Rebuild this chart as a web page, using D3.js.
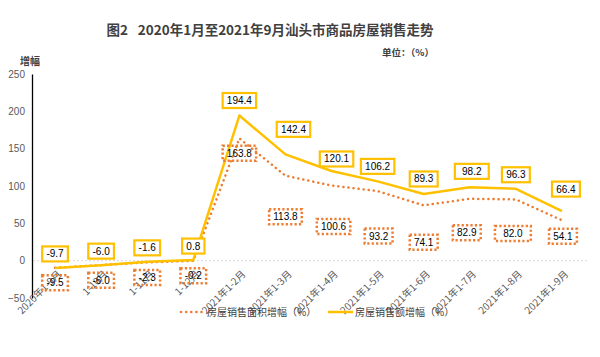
<!DOCTYPE html>
<html><head><meta charset="utf-8">
<script src="https://cdn.jsdelivr.net/npm/d3@7"></script>
<style>
body{margin:0;background:#fff;}
svg{display:block;}
</style></head>
<body>
<svg id="c" width="600" height="357"></svg>
<script>
const categories = ["2020年1-9月","1-10月","1-11月","1-12月","2021年1-2月","2021年1-3月","2021年1-4月","2021年1-5月","2021年1-6月","2021年1-7月","2021年1-8月","2021年1-9月"];
const areaGrowth = [-9.5,-6.0,-2.3,-0.2,163.8,113.8,100.6,93.2,74.1,82.9,82.0,54.1];
const salesGrowth = [-9.7,-6.0,-1.6,0.8,194.4,142.4,120.1,106.2,89.3,98.2,96.3,66.4];
const yTicks = [-50,0,50,100,150,200,250];
const seriesNames = ["房屋销售面积增幅（%）","房屋销售额增幅（%）"];

// layout of data labels (pixel offsets from the point, as placed in the reference)
const salesLabelDy = [-14,-14,-14,-14,-15,-25,-12,-15,-15,-16,-14,-22];
const salesLabelDx = [0,0,0,0,0,8,5,0,0,2,0,4];
const salesLabelPad = [0,0,0,0,0,0,0,0,0,6,0,0];
const areaLabelDy = [15,15,15,15,15,41,41,45,37,34,34,16];
const areaLabelDx = [0,0,0,0,0,0,2,1,0,-3,-3,1];
const areaLabelPad = [0,0,0,0,0,0,0,0,0,0,8,0];

const svg = d3.select("#c");
const cjk = "'Noto Sans CJK SC','Noto Sans',sans-serif";
const num = "'Liberation Sans',Arial,sans-serif";
const orange = "#ED7D31", gold = "#FFC000";

const x = d3.scaleBand().domain(categories).range([32,585]);
const y = d3.scaleLinear().domain([-50,250]).range([298,74]);
const cx = d => x(d) + x.bandwidth()/2;

// title
svg.append("text").attr("x",270).attr("y",35).attr("text-anchor","middle")
  .style("font-family",cjk).style("font-weight","bold").style("font-size","13.5px").attr("fill","#404040")
  .text("图2\u2002 2020年1月至2021年9月汕头市商品房屋销售走势");
svg.append("text").attr("x",382).attr("y",56)
  .style("font-family",cjk).style("font-weight","bold").style("font-size","9.5px").attr("fill","#404040")
  .text("单位：（%）");
svg.append("text").attr("x",20).attr("y",65)
  .style("font-family",cjk).style("font-weight","bold").style("font-size","10px").attr("fill","#404040")
  .text("增幅");

// y axis
const yAxis = d3.axisLeft(y).tickValues(yTicks).tickSize(0).tickPadding(7);
const ga = svg.append("g").attr("transform","translate(32,0)").call(yAxis);
ga.select(".domain").attr("stroke","#000").attr("stroke-width",1.3);
ga.selectAll("text").style("font-family",num).style("font-size","10px").attr("fill","#595959");

// zero line
svg.append("line").attr("x1",33).attr("x2",587).attr("y1",y(0)).attr("y2",y(0))
  .attr("stroke","#D9D9D9").attr("stroke-width",1).attr("stroke-dasharray","2,2");

// x labels
const xAxis = d3.axisBottom(x).tickSize(0).tickPadding(0);
const gx = svg.append("g").attr("transform",`translate(0,${y(0)})`).call(xAxis);
gx.select(".domain").remove();
gx.selectAll("text")
  .style("font-family",cjk).style("font-size","10px").attr("fill","#595959")
  .attr("text-anchor","end").attr("dy",null).attr("y",0)
  .attr("transform","translate(7,14) rotate(-45)");

// lines
const line = d3.line().x((d,i)=>cx(categories[i])).y(d=>y(d));
svg.append("path").datum(areaGrowth).attr("d",line).attr("fill","none")
  .attr("stroke",orange).attr("stroke-width",2.5).attr("stroke-dasharray","0.1,5").attr("stroke-linecap","round");
svg.append("path").datum(salesGrowth).attr("d",line).attr("fill","none")
  .attr("stroke",gold).attr("stroke-width",2.5).attr("stroke-linejoin","round");

// data labels
function labels(vals, dys, dxs, pads, color, dotted){
  vals.forEach((v,i)=>{
    const px = cx(categories[i]) + dxs[i], py = y(v) + dys[i];
    const g = svg.append("g");
    const t = g.append("text").attr("x",px).attr("y",py).attr("text-anchor","middle").attr("dy","0.35em")
      .style("font-family",num).style("font-size","10px").attr("fill","#000").text(v.toFixed(1));
    const bb = t.node().getBBox();
    const w = bb.width + 8 + pads[i], h = 15;
    const r = g.insert("rect","text").attr("x",px-w/2).attr("y",py-h/2).attr("width",w).attr("height",h)
      .attr("fill","#fff").attr("stroke",color).attr("stroke-width",dotted?2.5:2.2);
    if(dotted) r.attr("stroke-dasharray","2.2,2.2").attr("fill","none");
  });
}
labels(areaGrowth, areaLabelDy, areaLabelDx, areaLabelPad, orange, true);
labels(salesGrowth, salesLabelDy, salesLabelDx, salesLabelPad, gold, false);

// legend
const ly = 312;
svg.append("line").attr("x1",181).attr("x2",205).attr("y1",ly).attr("y2",ly)
  .attr("stroke",orange).attr("stroke-width",2.5).attr("stroke-dasharray","0.1,5").attr("stroke-linecap","round");
svg.append("text").attr("x",207).attr("y",ly).attr("dy","0.35em")
  .style("font-family",cjk).style("font-size","10px").attr("fill","#404040").text(seriesNames[0]);
svg.append("line").attr("x1",328).attr("x2",353).attr("y1",ly).attr("y2",ly)
  .attr("stroke",gold).attr("stroke-width",2.5);
svg.append("text").attr("x",355).attr("y",ly).attr("dy","0.35em")
  .style("font-family",cjk).style("font-size","10px").attr("fill","#404040").text(seriesNames[1]);
</script>
</body></html>
